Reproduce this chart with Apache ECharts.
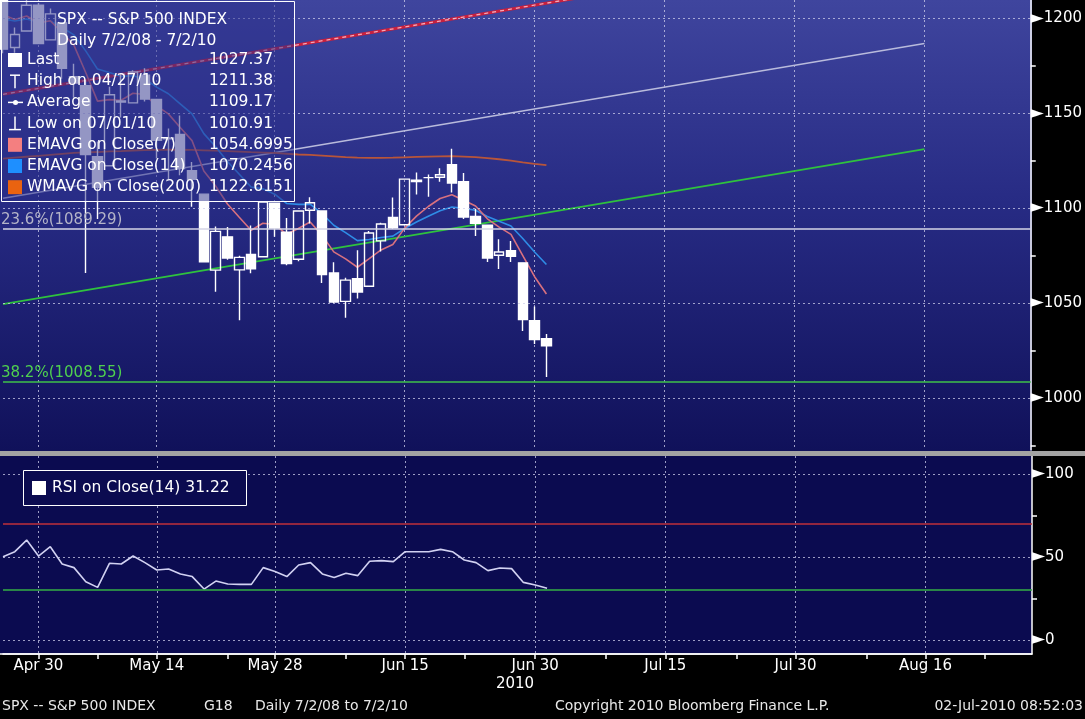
<!DOCTYPE html>
<html><head><meta charset="utf-8">
<script src="https://cdn.jsdelivr.net/npm/echarts@6/dist/echarts.min.js"></script>
<style>html,body{margin:0;padding:0;background:#000;}#c{width:1085px;height:719px;}</style>
</head><body><div id="c"></div>
<script>
// ---------- data ----------
const categories = [
 'Apr 27','Apr 28','Apr 29','Apr 30',
 'May 3','May 4','May 5','May 6','May 7',
 'May 10','May 11','May 12','May 13','May 14',
 'May 17','May 18','May 19','May 20','May 21',
 'May 24','May 25','May 26','May 27','May 28',
 'Jun 1','Jun 2','Jun 3','Jun 4',
 'Jun 7','Jun 8','Jun 9','Jun 10','Jun 11',
 'Jun 14','Jun 15','Jun 16','Jun 17','Jun 18',
 'Jun 21','Jun 22','Jun 23','Jun 24','Jun 25',
 'Jun 28','Jun 29','Jun 30','Jul 1',
 'Jul 2','Jul 5','Jul 6','Jul 7','Jul 8','Jul 9',
 'Jul 12','Jul 13','Jul 14','Jul 15','Jul 16',
 'Jul 19','Jul 20','Jul 21','Jul 22','Jul 23',
 'Jul 26','Jul 27','Jul 28','Jul 29','Jul 30',
 'Aug 2','Aug 3','Aug 4','Aug 5','Aug 6',
 'Aug 9','Aug 10','Aug 11','Aug 12','Aug 13',
 'Aug 16','Aug 17','Aug 18','Aug 19','Aug 20',
 'Aug 23','Aug 24','Aug 25','Aug 26','Aug 27'
];
const majorTickLabels = ['Apr 30','May 14','May 28','Jun 15','Jun 30','Jul 15','Jul 30','Aug 16'];
const minorTickLabels = ['May 7','May 24','Jun 8','Jun 22','Jul 8','Jul 23','Aug 9','Aug 23'];

const opens  = [1209.9,1184.6,1193.3,1206.8,1188.6,1197.5,1169.2,1164.4,1127.0,1122.3,1156.4,1155.4,1170.0,1157.2,1136.5,1138.8,1119.6,1107.3,1067.3,1084.8,1067.4,1075.5,1074.3,1102.6,1087.3,1073.0,1098.8,1098.4,1065.8,1050.8,1062.8,1058.8,1082.7,1095.0,1091.2,1114.0,1116.0,1116.2,1122.8,1113.9,1095.6,1090.9,1075.1,1077.5,1071.1,1040.6,1031.1];
const highs  = [1211.4,1195.1,1209.4,1208.0,1205.1,1197.5,1176.0,1167.6,1135.1,1163.9,1170.5,1172.6,1173.6,1157.2,1141.9,1148.7,1124.3,1107.3,1090.2,1090.0,1074.8,1090.8,1103.5,1102.6,1094.8,1098.6,1105.7,1098.4,1071.4,1063.2,1077.7,1087.9,1092.3,1105.6,1115.6,1118.7,1117.7,1121.0,1131.2,1118.5,1099.6,1090.9,1083.6,1082.6,1071.1,1048.1,1033.6];
const lows   = [1181.6,1181.8,1193.3,1186.3,1188.6,1168.1,1158.2,1065.8,1094.2,1122.3,1147.7,1155.4,1156.1,1126.1,1115.0,1117.2,1100.7,1071.6,1055.9,1072.7,1040.8,1065.6,1074.3,1084.8,1069.9,1072.0,1091.8,1060.5,1049.9,1042.2,1052.3,1058.8,1077.1,1089.0,1091.2,1107.1,1105.9,1113.9,1108.2,1094.2,1085.3,1071.6,1067.9,1071.5,1035.2,1028.3,1010.9];
const closes = [1183.7,1191.4,1206.8,1186.7,1202.3,1173.6,1165.9,1128.2,1110.9,1159.7,1155.8,1171.7,1157.4,1135.7,1136.9,1120.8,1115.1,1071.6,1087.7,1073.7,1074.0,1068.0,1103.1,1089.4,1070.7,1098.4,1102.8,1064.9,1050.5,1062.0,1055.7,1086.8,1091.6,1089.6,1115.2,1114.6,1116.0,1117.5,1113.2,1095.3,1092.0,1073.7,1076.8,1074.6,1041.2,1030.7,1027.4];

const ema7   = [1201.9,1199.3,1201.2,1197.5,1198.7,1192.4,1185.8,1171.4,1156.3,1157.1,1156.8,1160.5,1159.8,1153.8,1149.6,1142.4,1135.5,1119.5,1111.6,1102.1,1095.1,1088.3,1092.0,1091.3,1086.2,1089.2,1092.6,1085.7,1076.9,1073.2,1068.8,1073.3,1077.9,1080.8,1089.4,1095.7,1100.8,1105.0,1107.0,1104.1,1101.1,1094.3,1089.9,1086.1,1074.9,1063.8,1054.7];
const ema14  = [1199.6,1198.5,1199.6,1197.9,1198.5,1195.1,1191.2,1182.8,1173.2,1171.4,1169.4,1169.7,1168.0,1163.7,1160.2,1154.9,1149.6,1139.2,1132.3,1124.5,1117.8,1111.1,1110.1,1107.3,1102.4,1101.9,1102.0,1097.1,1090.9,1087.0,1082.8,1083.4,1084.5,1085.2,1089.2,1092.6,1095.7,1098.6,1100.5,1099.8,1098.8,1095.5,1093.0,1090.5,1083.9,1076.8,1070.2];
const wma200 = [1126.0,1126.5,1127.0,1127.5,1128.0,1128.5,1129.0,1129.3,1129.5,1129.8,1130.0,1130.3,1130.5,1130.6,1130.7,1130.7,1130.6,1130.4,1130.2,1130.0,1129.7,1129.4,1129.2,1129.0,1128.6,1128.2,1128.0,1127.6,1127.2,1126.8,1126.5,1126.4,1126.4,1126.5,1126.7,1126.9,1127.1,1127.2,1127.3,1127.1,1126.8,1126.3,1125.7,1125.0,1124.1,1123.3,1122.6];
const rsi14  = [50.2,53.2,60.2,50.6,56.2,45.8,43.6,35.1,31.7,46.2,45.8,50.6,46.6,42.2,42.8,39.8,38.2,30.7,35.5,33.7,33.5,33.5,43.6,41.2,38.2,45.2,46.6,39.8,37.6,40.2,38.8,47.4,47.8,47.2,53.2,53.2,53.2,54.6,53.2,48.2,46.6,41.8,43.4,43.0,34.7,33.1,31.2];

// trend channel (start/end points in [category index, price])
const trendUpper  = [[0,1159.9],[52,1214.2]];
const trendMiddle = [[0,1105.2],[78,1186.7]];
const trendLower  = [[0,1049.4],[78,1131.0]];

const fibPct    = ['23.6%','38.2%'];
const fibValues = [1089.29, 1008.55];

const priceRange   = [972.5, 1209.6];
const priceLabels  = [1000,1050,1100,1150,1200];
const priceMinor   = [975,1025,1075,1125,1175];
const rsiRange     = [-8.43, 110.84];
const rsiLabels    = [0,50,100];
const rsiMinor     = [25,75];
const rsiBands     = [70,30];

const titleLines   = ['SPX -- S&P 500 INDEX','Daily 7/2/08 - 7/2/10'];
const legendNames  = ['Last','High on 04/27/10','Average','Low on 07/01/10','EMAVG on Close(7)','EMAVG on Close(14)','WMAVG on Close(200)'];
const legendValues = ['1027.37','1211.38','1109.17','1010.91','1054.6995','1070.2456','1122.6151'];
const rsiLegend    = 'RSI on Close(14) 31.22';
const footerTexts  = ['SPX -- S&P 500 INDEX','G18','Daily 7/2/08 to 7/2/10','Copyright 2010 Bloomberg Finance L.P.','02-Jul-2010 08:52:03'];
const yearLabel    = '2010';

// ---------- chart ----------
const FONT = '"DejaVu Sans", sans-serif';
const gridColor = 'rgba(205,205,235,0.75)';
const candleData = opens.map((o,i)=>[o, closes[i], lows[i], highs[i]]);
const isMajor = (i,v)=>majorTickLabels.indexOf(v) >= 0;
const isTick  = (i,v)=>majorTickLabels.indexOf(v) >= 0 || minorTickLabels.indexOf(v) >= 0;

const chart = echarts.init(document.getElementById('c'), null, {renderer:'canvas'});

const graphics = [];
graphics.push({type:'rect', z:-10, shape:{x:0,y:0,width:1032,height:451},
  style:{fill:new echarts.graphic.LinearGradient(0,0,0,1,[
    {offset:0,color:'#3f459e'},{offset:0.45,color:'#272b84'},{offset:1,color:'#10115a'}])}});
graphics.push({type:'rect', z:-10, shape:{x:0,y:456,width:1032,height:198}, style:{fill:'#0b0b50'}});
graphics.push({type:'rect', z:30, shape:{x:0,y:451,width:1085,height:5}, style:{fill:'#a3a3a3'}});
graphics.push({type:'line', z:30, shape:{x1:0,y1:654,x2:1032,y2:654}, style:{stroke:'#ffffff',lineWidth:1.5}});
// legend box
graphics.push({type:'rect', z:40, shape:{x:1.5,y:1.5,width:293,height:200},
  style:{fill:'rgba(42,46,138,0.5)', stroke:'#ffffff', lineWidth:1}});
titleLines.forEach((t,i)=>graphics.push({type:'text', z:41, x:57, y:20+i*21,
  style:{text:t, fill:'#ffffff', font:'15.5px '+FONT, verticalAlign:'middle'}}));
const iconColors = [null,null,null,null,'#f47f80','#1e8fff','#ea6310'];
legendNames.forEach((t,i)=>{
  const cy = 60 + i*21.2;
  graphics.push({type:'text', z:41, x:27, y:cy, style:{text:t, fill:'#ffffff', font:'15.5px '+FONT, verticalAlign:'middle'}});
  graphics.push({type:'text', z:41, x:209, y:cy, style:{text:legendValues[i], fill:'#ffffff', font:'15.5px '+FONT, verticalAlign:'middle'}});
  if (i===0 || i>=4) {
    graphics.push({type:'rect', z:41, shape:{x:8,y:cy-7,width:14,height:14}, style:{fill: i===0 ? '#ffffff' : iconColors[i]}});
  } else if (i===1) {
    graphics.push({type:'line', z:41, shape:{x1:10,y1:cy-6,x2:20,y2:cy-6}, style:{stroke:'#fff',lineWidth:1.5}});
    graphics.push({type:'line', z:41, shape:{x1:15,y1:cy-6,x2:15,y2:cy+7}, style:{stroke:'#fff',lineWidth:1.5}});
  } else if (i===2) {
    graphics.push({type:'line', z:41, shape:{x1:8,y1:cy,x2:23,y2:cy}, style:{stroke:'#fff',lineWidth:1.5}});
    graphics.push({type:'circle', z:41, shape:{cx:15.5,cy:cy,r:2.5}, style:{fill:'#fff'}});
  } else if (i===3) {
    graphics.push({type:'line', z:41, shape:{x1:15,y1:cy-7,x2:15,y2:cy+6}, style:{stroke:'#fff',lineWidth:1.5}});
    graphics.push({type:'line', z:41, shape:{x1:9,y1:cy+6,x2:21,y2:cy+6}, style:{stroke:'#fff',lineWidth:1.5}});
  }
});
graphics.push({type:'rect', z:40, shape:{x:23.5,y:470.5,width:223,height:35}, style:{fill:'#0b0b50', stroke:'#ffffff', lineWidth:1}});
graphics.push({type:'rect', z:41, shape:{x:32,y:481,width:14,height:14}, style:{fill:'#ffffff'}});
graphics.push({type:'text', z:41, x:52, y:488, style:{text:rsiLegend, fill:'#ffffff', font:'15.5px '+FONT, verticalAlign:'middle'}});
graphics.push({type:'text', z:41, x:515, y:684, style:{text:yearLabel, fill:'#ffffff', font:'15px '+FONT, align:'center', verticalAlign:'middle'}});
const footerX = [2,204,255,555,1083];
footerTexts.forEach((t,i)=>graphics.push({type:'text', z:41, x:footerX[i], y:706,
  style:{text:t, fill:'#e8e8e8', font:'14px '+FONT, align: i===4 ? 'right':'left', verticalAlign:'middle'}}));

const axisLabelRich = {
  t:{fontSize:17, color:'#ffffff', fontFamily:'"DejaVu Sans"', lineHeight:18},
  v:{fontSize:15, color:'#ffffff', fontFamily:FONT, lineHeight:18}
};
const dotted = {color:gridColor, type:[2,3], width:1};

const option = {
  backgroundColor:'#000000',
  animation:false,
  textStyle:{fontFamily:FONT},
  graphic:{elements:graphics},
  grid:[
    {left:3, right:53, top:0, height:450},
    {left:3, right:53, top:456, height:198}
  ],
  xAxis:[
    {type:'category', gridIndex:0, data:categories, boundaryGap:false,
     axisLine:{show:false, onZero:false}, axisTick:{show:false}, axisLabel:{show:false},
     splitLine:{show:true, interval:isMajor, lineStyle:dotted}},
    {type:'category', gridIndex:1, data:categories, boundaryGap:false, position:'bottom',
     axisLine:{show:true, onZero:false, lineStyle:{color:'#ffffff', width:1.5}},
     axisTick:{show:true, interval:isTick, length:5, lineStyle:{color:'#ffffff', width:1.5}},
     axisLabel:{show:true, interval:isMajor, color:'#ffffff', fontSize:15, margin:5, fontFamily:FONT},
     splitLine:{show:true, interval:isMajor, lineStyle:dotted}}
  ],
  yAxis:[
    {type:'value', gridIndex:0, position:'right', min:priceRange[0], max:priceRange[1],
     axisLine:{show:true, lineStyle:{color:'#ffffff', width:1.5}},
     axisTick:{show:true, customValues:priceMinor, length:5, lineStyle:{color:'#ffffff', width:1.5}},
     axisLabel:{show:true, customValues:priceLabels, margin:0, formatter:v=>'{t|\u25BA}{v|'+v+'}', rich:axisLabelRich},
     splitLine:{show:false}},
    {type:'value', gridIndex:1, position:'right', min:rsiRange[0], max:rsiRange[1],
     axisLine:{show:true, lineStyle:{color:'#ffffff', width:1.5}},
     axisTick:{show:true, customValues:rsiMinor, length:5, lineStyle:{color:'#ffffff', width:1.5}},
     axisLabel:{show:true, customValues:rsiLabels, margin:0, formatter:v=>'{t|\u25BA}{v|'+v+'}', rich:axisLabelRich},
     splitLine:{show:false}}
  ],
  series:[
    {name:'grid', type:'line', xAxisIndex:0, yAxisIndex:0, data:[], z:1, silent:true,
     markLine:{silent:true, symbol:['none','none'], label:{show:false}, lineStyle:dotted,
       data:priceLabels.map(v=>({yAxis:v}))}},
    {name:'fib', type:'line', xAxisIndex:0, yAxisIndex:0, data:[], z:2, silent:true,
     markLine:{silent:true, symbol:['none','none'],
       data:fibValues.map((v,i)=>({yAxis:v,
         lineStyle:{color: i===0 ? '#d4d4e6' : '#3fc24a', width:1.6, type:'solid'},
         label:{show:true, position:'insideStartTop', distance:[-2,1], formatter: fibPct[i]+'('+v.toFixed(2)+')',
           color: i===0 ? '#b4b4c8' : '#4fd04f', fontSize:15, fontFamily:FONT}}))}},
    {name:'upper', type:'line', xAxisIndex:0, yAxisIndex:0, data:trendUpper, z:2, showSymbol:false, silent:true,
     lineStyle:{color:'#c8203e', width:3}},
    {name:'upper2', type:'line', xAxisIndex:0, yAxisIndex:0, data:trendUpper, z:2, showSymbol:false, silent:true,
     lineStyle:{color:'#f5a8b8', width:1.3, type:[4,4]}},
    {name:'middle', type:'line', xAxisIndex:0, yAxisIndex:0, data:trendMiddle, z:2, showSymbol:false, silent:true,
     lineStyle:{color:'#b9bbdc', width:1.5}},
    {name:'lower', type:'line', xAxisIndex:0, yAxisIndex:0, data:trendLower, z:2, showSymbol:false, silent:true,
     lineStyle:{color:'#2fc23e', width:1.8}},
    {name:'WMAVG', type:'line', xAxisIndex:0, yAxisIndex:0, data:wma200, z:2, showSymbol:false, silent:true,
     lineStyle:{color:'#b8553a', width:1.8}},
    {name:'EMA14', type:'line', xAxisIndex:0, yAxisIndex:0, data:ema14, z:2, showSymbol:false, silent:true,
     lineStyle:{color:'#2f8de6', width:1.6}},
    {name:'EMA7', type:'line', xAxisIndex:0, yAxisIndex:0, data:ema7, z:2, showSymbol:false, silent:true,
     lineStyle:{color:'#d8717f', width:1.6}},
    {name:'SPX', type:'candlestick', xAxisIndex:0, yAxisIndex:0, data:candleData, z:3, barWidth:10, clip:false,
     itemStyle:{color:'rgba(0,0,0,0)', color0:'#ffffff', borderColor:'#ffffff', borderColor0:'#ffffff', borderWidth:1.4}},
    {name:'RSIgrid', type:'line', xAxisIndex:1, yAxisIndex:1, data:[], z:1, silent:true,
     markLine:{silent:true, symbol:['none','none'], label:{show:false},
       data:rsiLabels.map(v=>({yAxis:v, lineStyle:dotted})).concat(
            rsiBands.map((v,i)=>({yAxis:v, lineStyle:{color: i===0 ? '#c0303a' : '#35b044', width:1.6, type:'solid'}})))}},
    {name:'RSI', type:'line', xAxisIndex:1, yAxisIndex:1, data:rsi14, z:3, showSymbol:false, silent:true,
     lineStyle:{color:'#d2d2f2', width:1.6}}
  ]
};
chart.setOption(option);
</script>
</body></html>
